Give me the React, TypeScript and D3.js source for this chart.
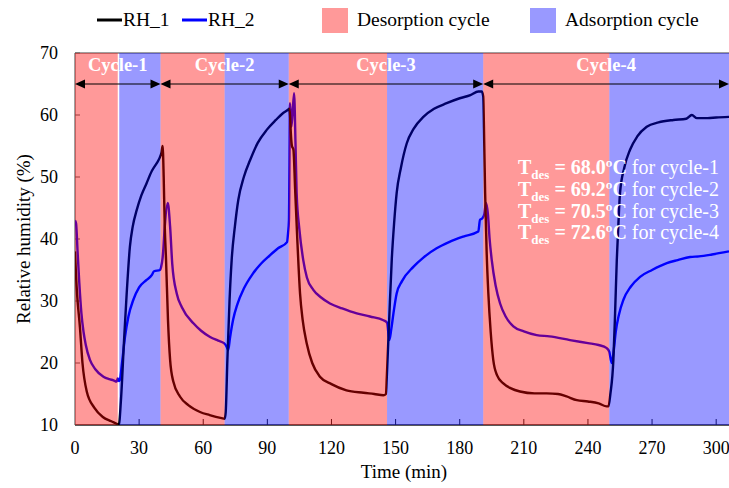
import React from "react";
import * as d3 from "d3";

// ---- data ----
const rh1Time = [0, 0.5, 1, 2.3, 3.5, 5.5, 9, 13, 17, 20,
  20.5, 21.5, 23, 24.2, 25.7, 27, 28.9, 31, 33.5, 36, 38.2, 39.5, 40.5, 41,
  41.5, 42, 42.6, 43.5, 44.5, 46, 49.1, 53, 58.5, 63, 68.6, 70,
  70.5, 71.3, 72.3, 73.3, 74.8, 76.4, 79, 81.9, 85.5, 89.7, 94, 97, 99.5, 100.2,
  100.6, 101, 101.5, 102.2, 103, 104, 105.3, 106.5, 108.4, 111, 114.6, 120, 127, 135, 140, 144.3, 145.5,
  145.9, 147, 148.2, 149.3, 150.5, 152.5, 155.2, 158.5, 163, 168, 173.9, 180, 185, 188.7, 190.3,
  191, 191.5, 191.9, 192.6, 193.4, 194.5, 195.7, 197.5, 200.4, 204, 208.2, 215, 220.7, 226, 230, 234.8, 240, 245, 248.8, 249.6,
  250.5, 251.9, 252.7, 253.5, 254.2, 255, 257, 259.7, 263, 267.5, 273, 280, 286, 288.6, 291, 296, 300, 306];
const rh1Values = [38, 34, 31, 25.8, 20, 15.4, 12.8, 11.3, 10.6, 10.1,
  10, 14, 24, 31.3, 38.8, 42, 44.7, 47, 49, 51, 52.2, 53, 54, 55,
  50, 42, 36.6, 27, 20.5, 17, 14.6, 13.2, 12.1, 11.6, 11.1, 11,
  12, 20.5, 30, 36.6, 42, 46.3, 50, 52.7, 55.5, 57.6, 59.2, 60.2, 60.8, 61,
  60, 57, 55, 54.4, 48, 40, 31.2, 27, 23.2, 20, 17.8, 16.6, 15.6, 15.2, 15, 14.8, 15,
  17.8, 27, 36.6, 42.5, 47.4, 51.5, 55.4, 57.8, 59.7, 61, 61.9, 62.7, 63.2, 63.8, 63.8,
  63, 55, 47.4, 38, 31.2, 25, 20.5, 18, 16.7, 15.9, 15.4, 15.1, 15.1, 15, 14.6, 14, 13.8, 13.5, 13, 13,
  15, 20.5, 28, 36.6, 42, 47.4, 51.5, 54.4, 56.5, 58.1, 58.8, 59.2, 59.4, 60, 59.5, 59.5, 59.6, 59.7];

const rh2Time = [0, 0.5, 1.2, 2, 3, 4, 5, 7, 9.5, 13.3, 16, 18, 19.5, 20, 20.5, 21,
  22, 23.4, 25, 27.3, 30, 33.5, 36, 37, 39.8, 40.3, 41, 41.3, 42, 43.4,
  44.5, 45.5, 47.6, 50, 55.4, 59, 63.2, 67, 69.7, 71, 71.7,
  72.5, 74, 76, 79, 83, 87, 91, 95, 99.2, 99.7, 100.1, 100.6, 101.3, 102.5,
  103.2, 103.7, 105, 106.8, 108.5, 111.5, 115, 119.3, 125, 131.8, 138, 144.3, 146, 147.1,
  148, 149, 150.5, 153, 158.3, 163, 169.2, 175, 181.7, 188.7, 189.5, 190.5, 191.5, 192.3,
  193.2, 194, 195, 196.8, 198.9, 201.5, 205.1, 210, 216, 222, 231.6, 240, 245, 248.8, 250, 251.1,
  251.9, 253, 254.5, 256.6, 260, 264.4, 270, 276.9, 282, 287.8, 292, 298, 306];
const rh2Values = [43, 42.5, 38, 33, 28, 25, 23, 20.5, 19, 17.8, 17.4, 17.2, 17, 17.5, 17.1, 17.3,
  20, 24.2, 27.5, 30.2, 32.2, 33.4, 34.2, 34.8, 35, 35.5, 37, 38.2, 42, 45.8,
  42, 36, 31.2, 29, 26.4, 25.2, 24.2, 23.6, 23.2, 22.6, 22.1,
  24, 27, 29.5, 32, 34.3, 36, 37.3, 38.5, 39.5, 41, 43, 61.9, 58.1, 63.5,
  55, 47.4, 41.5, 36.6, 33.8, 31.8, 30.6, 29.6, 28.8, 28, 27.5, 26.9, 26.5, 23.7,
  25.5, 28, 31.2, 33.2, 35.5, 37, 38.5, 39.5, 40.4, 41.2, 43.1, 43.3, 44, 45.8,
  44, 40, 36.6, 32.5, 29.6, 27.5, 25.9, 25.1, 24.5, 24.3, 23.7, 23.2, 22.9, 22.4, 21.8, 20,
  21.5, 25, 27.8, 30.2, 32.3, 33.9, 35, 36.1, 36.6, 37.1, 37.2, 37.5, 38];

const desorptionStart = [0, 40, 100, 191];
const desorptionEnd = [20, 70, 146, 250];
const adsorptionStart = [20, 70, 146, 250];
const adsorptionEnd = [40, 100, 191, 306];

const cycleNames = ["Cycle-1", "Cycle-2", "Cycle-3", "Cycle-4"];
const cycleStart = [0, 40, 100, 191];
const cycleEnd = [40, 100, 191, 306];

const tdesValues = ["68.0", "69.2", "70.5", "72.6"];
const tdesCycles = ["cycle-1", "cycle-2", "cycle-3", "cycle-4"];

const xTicks = [0, 30, 60, 90, 120, 150, 180, 210, 240, 270, 300];
const yTicks = [10, 20, 30, 40, 50, 60, 70];
const xDomain = [0, 306];
const yDomain = [10, 70];
const arrowLevel = 65;

const FONT = '"Liberation Serif", "Times New Roman", Times, serif';

export default function App() {
  const W = 729, H = 488;
  const left = 75, right = 729, top = 53, bottom = 425;
  const x = d3.scaleLinear().domain(xDomain).range([left, right]);
  const y = d3.scaleLinear().domain(yDomain).range([bottom, top]);
  const line = d3.line<[number, number]>()
    .x((d) => x(d[0]))
    .y((d) => y(d[1]))
    .curve(d3.curveMonotoneX);
  const s1 = rh1Time.map((t, i) => [t, rh1Values[i]] as [number, number]);
  const s2 = rh2Time.map((t, i) => [t, rh2Values[i]] as [number, number]);

  const ay = y(arrowLevel);
  const ah = 10, aw = 4.5;
  const arrowLeft = (px: number) => `M${px},${ay} L${px + ah},${ay - aw} L${px + ah},${ay + aw} Z`;
  const arrowRight = (px: number) => `M${px},${ay} L${px - ah},${ay - aw} L${px - ah},${ay + aw} Z`;

  return (
    <svg width={W} height={H}
      style={{ position: "absolute", left: 0, top: 0, background: "#fff", fontFamily: FONT }}>
      <defs>
        <clipPath id="plotClip">
          <rect x={left} y={top} width={right - left} height={bottom - top} />
        </clipPath>
      </defs>

      {/* frame and axes (under overlay) */}
      <line x1={left} x2={right} y1={top} y2={top} stroke="#404040" strokeWidth={1.2} />
      <line x1={left} x2={left} y1={top} y2={bottom} stroke="#606060" strokeWidth={1.2} />
      <line x1={left} x2={right} y1={bottom} y2={bottom} stroke="#202020" strokeWidth={1.5} />
      {xTicks.filter((t) => t > 0).map((t) => (
        <line key={"xt" + t} x1={x(t)} x2={x(t)} y1={bottom} y2={bottom - 6} stroke="#202020" strokeWidth={1} />
      ))}
      {yTicks.map((t) => (
        <line key={"yt" + t} x1={left} x2={left + 5} y1={y(t)} y2={y(t)} stroke="#606060" strokeWidth={1} />
      ))}

      {/* data lines */}
      <g clipPath="url(#plotClip)">
        <path d={line(s2) || ""} fill="none" stroke="#0000ff" strokeWidth={2.4} strokeLinejoin="round" />
        <path d={line(s1) || ""} fill="none" stroke="#000000" strokeWidth={2.4} strokeLinejoin="round" />
      </g>

      {/* overlays */}
      {desorptionStart.map((s, i) => (
        <rect key={"d" + i} x={x(s)} y={top} width={x(desorptionEnd[i]) - x(s)} height={bottom - top}
          fill="#ff0000" fillOpacity={0.4} />
      ))}
      {adsorptionStart.map((s, i) => (
        <rect key={"a" + i} x={x(s) + (i === 0 ? 1.5 : 0)} y={top}
          width={x(adsorptionEnd[i]) - x(s) - (i === 0 ? 1.5 : 0)} height={bottom - top}
          fill="#0000ff" fillOpacity={0.4} />
      ))}

      {/* cycle arrows */}
      {cycleStart.map((s, i) => {
        const x0 = x(s), x1 = x(cycleEnd[i]);
        return (
          <g key={"c" + i}>
            <line x1={x0 + 2} x2={x1 - 2} y1={ay} y2={ay} stroke="#000" strokeWidth={1.2} />
            <path d={arrowLeft(x0)} fill="#000" />
            <path d={arrowRight(x1)} fill="#000" />
            <text x={(x0 + x1) / 2} y={ay - 13} textAnchor="middle" fill="#fff" fontWeight="bold" fontSize={18.5}>
              {cycleNames[i]}
            </text>
          </g>
        );
      })}

      {/* annotation */}
      {tdesValues.map((v, i) => (
        <text key={"tx" + i} x={518} y={174 + i * 21.8} fill="#fff" fontSize={20}>
          <tspan fontWeight="bold">T</tspan>
          <tspan fontWeight="bold" fontSize={13} dy={5}>des</tspan>
          <tspan fontWeight="bold" dy={-5}>{` = ${v}ºC`}</tspan>
          <tspan>{` for ${tdesCycles[i]}`}</tspan>
        </text>
      ))}

      {/* tick labels */}
      {xTicks.map((t) => (
        <text key={"xl" + t} x={x(t)} y={454} textAnchor="middle" fontSize={18} fill="#000">{t}</text>
      ))}
      {yTicks.map((t) => (
        <text key={"yl" + t} x={58} y={y(t) + 6} textAnchor="end" fontSize={18} fill="#000">{t}</text>
      ))}
      <text x={(left + right) / 2 + 2} y={478} textAnchor="middle" fontSize={19} fill="#000">Time (min)</text>
      <text transform={`translate(30,${(top + bottom) / 2}) rotate(-90)`} textAnchor="middle" fontSize={19} fill="#000">
        Relative humidity (%)
      </text>

      {/* legend */}
      <g fontSize={19.5} fill="#000">
        <line x1={97} x2={122} y1={20} y2={20} stroke="#000" strokeWidth={3} />
        <text x={123} y={26}>RH_1</text>
        <line x1={182} x2={207} y1={20} y2={20} stroke="#0000ff" strokeWidth={3} />
        <text x={208} y={26}>RH_2</text>
        <rect x={322} y={8} width={26} height={25} fill="#ff9999" />
        <text x={357} y={26}>Desorption cycle</text>
        <rect x={530} y={8} width={26} height={25} fill="#9999ff" />
        <text x={565} y={26}>Adsorption cycle</text>
      </g>
    </svg>
  );
}
